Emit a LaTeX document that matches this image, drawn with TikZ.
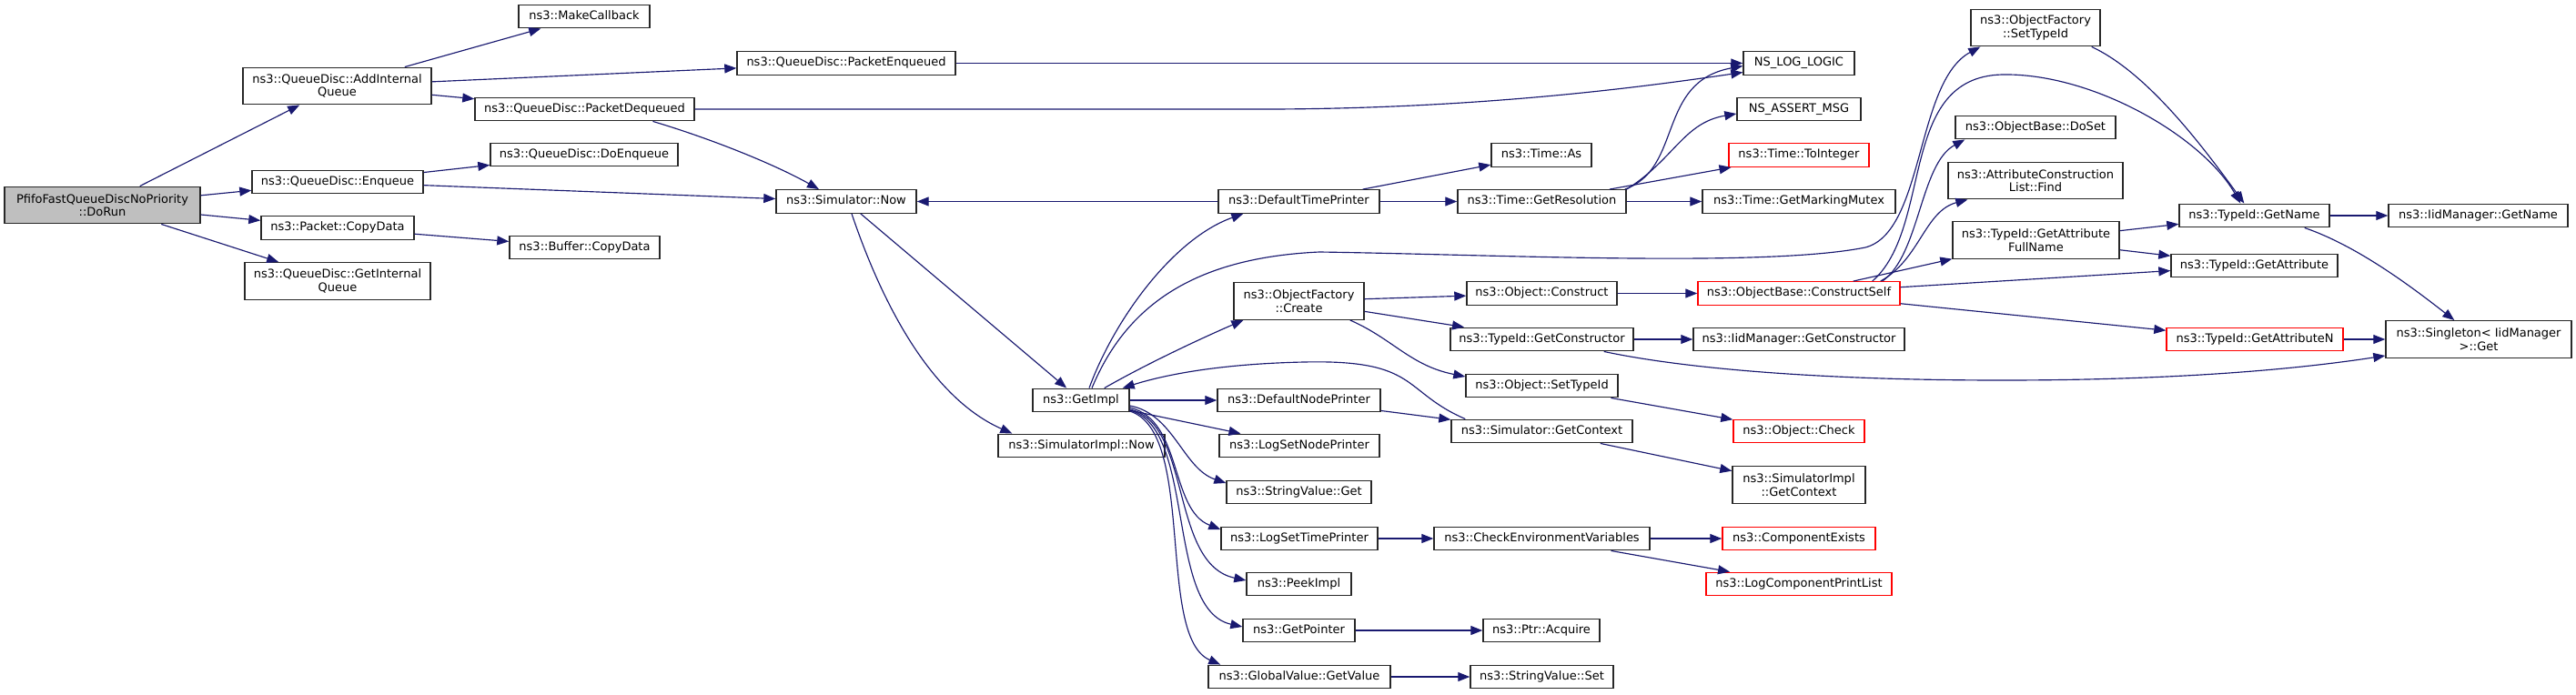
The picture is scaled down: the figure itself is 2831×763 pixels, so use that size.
\documentclass[tikz,border=0pt]{standalone}
\usepackage{fontspec}
\setmainfont{DejaVu Sans}
\usetikzlibrary{arrows.meta,calc}
\definecolor{midnight}{RGB}{25,25,112}
\definecolor{grey75}{RGB}{191,191,191}
\definecolor{truncred}{RGB}{255,0,0}
\definecolor{boxline}{RGB}{40,40,40}
\begin{document}
\begin{tikzpicture}[x=1pt,y=-1pt,
  bx/.style={draw=boxline,line width=1.4pt,fill=white,inner sep=0pt,font=\fontsize{13}{14.7}\selectfont},
  one/.style={bx,minimum height=25.5pt,text height=9.5pt,text depth=2.8pt},
  two/.style={bx,minimum height=40.5pt,align=center},
  trunc/.style={draw=truncred},
  call/.style={draw=midnight,line width=1.15pt,-{Triangle[length=13pt,width=10pt]}}]
\fill[white] (0,0) rectangle (2831,763);
\useasboundingbox (0,0) rectangle (2831,763);
% column 0
\node[two,fill=grey75,minimum width=215pt] (dorun) at (112.5,225.5) {PfifoFastQueueDiscNoPriority\\::DoRun};
% column 1
\node[two,minimum width=207pt] (addq) at (370.5,94.5) {ns3::QueueDisc::AddInternal\\Queue};
\node[one,minimum width=188pt] (enq) at (371,200) {ns3::QueueDisc::Enqueue};
\node[one,minimum width=168pt] (pcopy) at (371,250.5) {ns3::Packet::CopyData};
\node[two,minimum width=204pt] (getq) at (371,309) {ns3::QueueDisc::GetInternal\\Queue};
% column 2
\node[one,minimum width=144pt] (makecb) at (642,18) {ns3::MakeCallback};
\node[one,minimum width=241pt] (pdeq) at (642.5,120) {ns3::QueueDisc::PacketDequeued};
\node[one,minimum width=206pt] (doenq) at (642,170) {ns3::QueueDisc::DoEnqueue};
\node[one,minimum width=165pt] (bcopy) at (642.5,272) {ns3::Buffer::CopyData};
% column 3
\node[one,minimum width=240pt] (penq) at (930,69.5) {ns3::QueueDisc::PacketEnqueued};
\node[one,minimum width=154pt] (simnow) at (930,221.5) {ns3::Simulator::Now};
% column 4
\node[one,minimum width=106pt] (getimpl) at (1188,440) {ns3::GetImpl};
\node[one,minimum width=183pt] (simimplnow) at (1188.5,490) {ns3::SimulatorImpl::Now};
% column 5
\node[one,minimum width=177pt] (dtp) at (1427.5,221.5) {ns3::DefaultTimePrinter};
\node[two,minimum width=143pt] (ofcreate) at (1427.5,331) {ns3::ObjectFactory\\::Create};
\node[one,minimum width=179pt] (dnp) at (1427.5,440) {ns3::DefaultNodePrinter};
\node[one,minimum width=176pt] (lsnp) at (1428,490) {ns3::LogSetNodePrinter};
\node[one,minimum width=159pt] (svget) at (1427.5,541) {ns3::StringValue::Get};
\node[one,minimum width=172pt] (lstp) at (1428,592) {ns3::LogSetTimePrinter};
\node[one,minimum width=115pt] (peek) at (1427.5,642) {ns3::PeekImpl};
\node[one,minimum width=123pt] (getptr) at (1427.5,693) {ns3::GetPointer};
\node[one,minimum width=200pt] (gvget) at (1428,744) {ns3::GlobalValue::GetValue};
% column 6
\node[one,minimum width=110pt] (timeas) at (1694,170.5) {ns3::Time::As};
\node[one,minimum width=185pt] (getres) at (1694.5,221.5) {ns3::Time::GetResolution};
\node[one,minimum width=165pt] (objconstruct) at (1694.5,322.5) {ns3::Object::Construct};
\node[one,minimum width=201pt] (tgetctor) at (1694.5,373) {ns3::TypeId::GetConstructor};
\node[one,minimum width=167pt] (objsettid) at (1694.5,424) {ns3::Object::SetTypeId};
\node[one,minimum width=199pt] (simgetctx) at (1694.5,474) {ns3::Simulator::GetContext};
\node[one,minimum width=237pt] (checkenv) at (1694.5,592) {ns3::CheckEnvironmentVariables};
\node[one,minimum width=128pt] (ptracq) at (1694,693) {ns3::Ptr::Acquire};
\node[one,minimum width=157pt] (svset) at (1694.5,744) {ns3::StringValue::Set};
% column 7
\node[one,minimum width=122pt] (nslog) at (1977,69.5) {NS\_LOG\_LOGIC};
\node[one,minimum width=136pt] (nsassert) at (1977,120) {NS\_ASSERT\_MSG};
\node[one,trunc,minimum width=154pt] (toint) at (1977,170.5) {ns3::Time::ToInteger};
\node[one,minimum width=212pt] (mutex) at (1977,221.5) {ns3::Time::GetMarkingMutex};
\node[one,trunc,minimum width=222pt] (cself) at (1977,322.5) {ns3::ObjectBase::ConstructSelf};
\node[one,minimum width=232pt] (iidctor) at (1977,373) {ns3::IidManager::GetConstructor};
\node[one,trunc,minimum width=144pt] (objcheck) at (1977,474) {ns3::Object::Check};
\node[two,minimum width=146pt] (simimplctx) at (1977,533) {ns3::SimulatorImpl\\::GetContext};
\node[one,trunc,minimum width=168pt] (compexists) at (1977,592) {ns3::ComponentExists};
\node[one,trunc,minimum width=204pt] (logcpl) at (1977,642) {ns3::LogComponentPrintList};
% column 8
\node[two,minimum width=142pt] (ofsettid) at (2237,30.5) {ns3::ObjectFactory\\::SetTypeId};
\node[one,minimum width=176pt] (doset) at (2237,140) {ns3::ObjectBase::DoSet};
\node[two,minimum width=192pt] (acfind) at (2237,198.5) {ns3::AttributeConstruction\\List::Find};
\node[two,minimum width=183pt] (gafn) at (2237.5,264) {ns3::TypeId::GetAttribute\\FullName};
% column 9
\node[one,minimum width=165pt] (tgetname) at (2477.5,237) {ns3::TypeId::GetName};
\node[one,minimum width=183pt] (tgetattr) at (2477.5,292) {ns3::TypeId::GetAttribute};
\node[one,trunc,minimum width=194pt] (tgetattrn) at (2478,373) {ns3::TypeId::GetAttributeN};
% column 10
\node[one,minimum width=197pt] (iidgetname) at (2723.5,237) {ns3::IidManager::GetName};
\node[two,minimum width=204pt] (singleton) at (2724,373) {ns3::Singleton< IidManager\\>::Get};
% ---- edges ----
\draw[call] (dorun) -- (addq);
\draw[call] (dorun) -- (enq);
\draw[call] (dorun) -- (pcopy);
\draw[call] (dorun) -- (getq);
\draw[call] (addq) -- (makecb);
\draw[call] (addq) -- (penq);
\draw[call] (addq) -- (pdeq);
\draw[call] (penq) -- (nslog);
\draw[call] (pdeq.east) -- (1400,120) .. controls (1620,119) and (1790,98) .. ($(nslog.west)+(0,10)$);
\draw[call] ($(pdeq.south)+(75,0)$) .. controls (780,152) and (850,180) .. ($(simnow.north)+(-30,0)$);
\draw[call] (enq) -- (doenq);
\draw[call] (enq) -- (simnow);
\draw[call] (pcopy) -- (bcopy);
\draw[call] (simnow) -- (getimpl);
\draw[call] ($(simnow.south)+(6,0)$) .. controls (975,350) and (1030,440) .. ($(simimplnow.north west)+(16,0)$);
\draw[call] (dtp) -- (simnow);
\draw[call] (dtp) -- (timeas);
\draw[call] (dtp) -- (getres);
\draw[call] ($(getimpl.north)+(9,0)$) .. controls (1225,350) and (1290,262) .. ($(dtp.south west)+(28,0)$);
\draw[call] ($(getimpl.north)+(12,0)$) .. controls (1240,330) and (1320,283) .. (1450,277) .. controls (1650,280) and (1940,294) .. (2050,272) .. controls (2115,255) and (2105,90) .. ($(ofsettid.south west)+(11,0)$);
\draw[call] ($(getimpl.north east)+(-28,0)$) .. controls (1260,400) and (1320,372) .. ($(ofcreate.south west)+(11,0)$);
\draw[call] (getimpl) -- (dnp);
\draw[call] (getimpl) -- (lsnp);
\draw[call] ($(getimpl.east)+(0,6)$) .. controls (1290,455) and (1300,515) .. ($(svget.west)+(0,-10)$);
\draw[call] ($(getimpl.east)+(0,8)$) .. controls (1300,462) and (1285,560) .. ($(lstp.west)+(0,-10)$);
\draw[call] ($(getimpl.east)+(0,10)$) .. controls (1310,465) and (1285,620) .. ($(peek.west)+(0,-4)$);
\draw[call] ($(getimpl.east)+(0,11)$) .. controls (1315,470) and (1280,670) .. ($(getptr.west)+(0,-4)$);
\draw[call] ($(getimpl.east)+(0,12)$) .. controls (1315,475) and (1270,700) .. ($(gvget.north west)+(14,0)$);
\draw[call] (gvget) -- (svset);
\draw[call] (getptr) -- (ptracq);
\draw[call] (lstp) -- (checkenv);
\draw[call] (checkenv) -- (compexists);
\draw[call] (checkenv) -- (logcpl);
\draw[call] (dnp) -- (simgetctx);
\draw[call] ($(simgetctx.north west)+(16,0)$) .. controls (1540,430) and (1560,395) .. (1433,398) .. controls (1340,400) and (1280,412) .. ($(getimpl.north east)+(-8,0)$);
\draw[call] (simgetctx) -- (simimplctx);
\draw[call] (ofcreate) -- (objconstruct);
\draw[call] (ofcreate) -- (tgetctor);
\draw[call] ($(ofcreate.south east)+(-16,0)$) .. controls (1530,372) and (1550,402) .. ($(objsettid.west)+(0,-10)$);
\draw[call] (objconstruct) -- (cself);
\draw[call] (tgetctor) -- (iidctor);
\draw[call] ($(tgetctor.south east)+(-33,0)$) .. controls (1850,405) and (2000,418) .. (2200,418) .. controls (2400,418) and (2530,405) .. ($(singleton.west)+(0,18)$);
\draw[call] (objsettid) -- (objcheck);
\draw[call] ($(getres.north east)+(-2,0)$) .. controls (1850,185) and (1820,90) .. ($(nslog.west)+(0,3)$);
\draw[call] (getres.north east) .. controls (1840,175) and (1850,135) .. ($(nsassert.west)+(0,5)$);
\draw[call] (getres) -- (toint);
\draw[call] (getres) -- (mutex);
\draw[call] ($(cself.north east)+(-20,0)$) .. controls (2110,280) and (2110,180) .. ($(doset.south west)+(11,0)$);
\draw[call] ($(cself.north east)+(-22,0)$) .. controls (2110,285) and (2115,232) .. ($(acfind.south west)+(22,0)$);
\draw[call] (cself) -- (gafn);
\draw[call] ($(cself.north east)+(-31,0)$) .. controls (2125,250) and (2085,85) .. (2200,82) .. controls (2300,80) and (2420,150) .. ($(tgetname.north west)+(68,0)$);
\draw[call] (cself) -- (tgetattr);
\draw[call] (cself) -- (tgetattrn);
\draw[call] ($(ofsettid.south east)+(-10,0)$) .. controls (2360,80) and (2420,160) .. ($(tgetname.north west)+(72,0)$);
\draw[call] (gafn) -- (tgetname);
\draw[call] (gafn) -- (tgetattr);
\draw[call] (tgetname) -- (iidgetname);
\draw[call] ($(tgetname.south east)+(-28,0)$) .. controls (2590,270) and (2650,315) .. ($(singleton.north west)+(76,0)$);
\draw[call] (tgetattrn) -- (singleton);
\end{tikzpicture}
\end{document}
